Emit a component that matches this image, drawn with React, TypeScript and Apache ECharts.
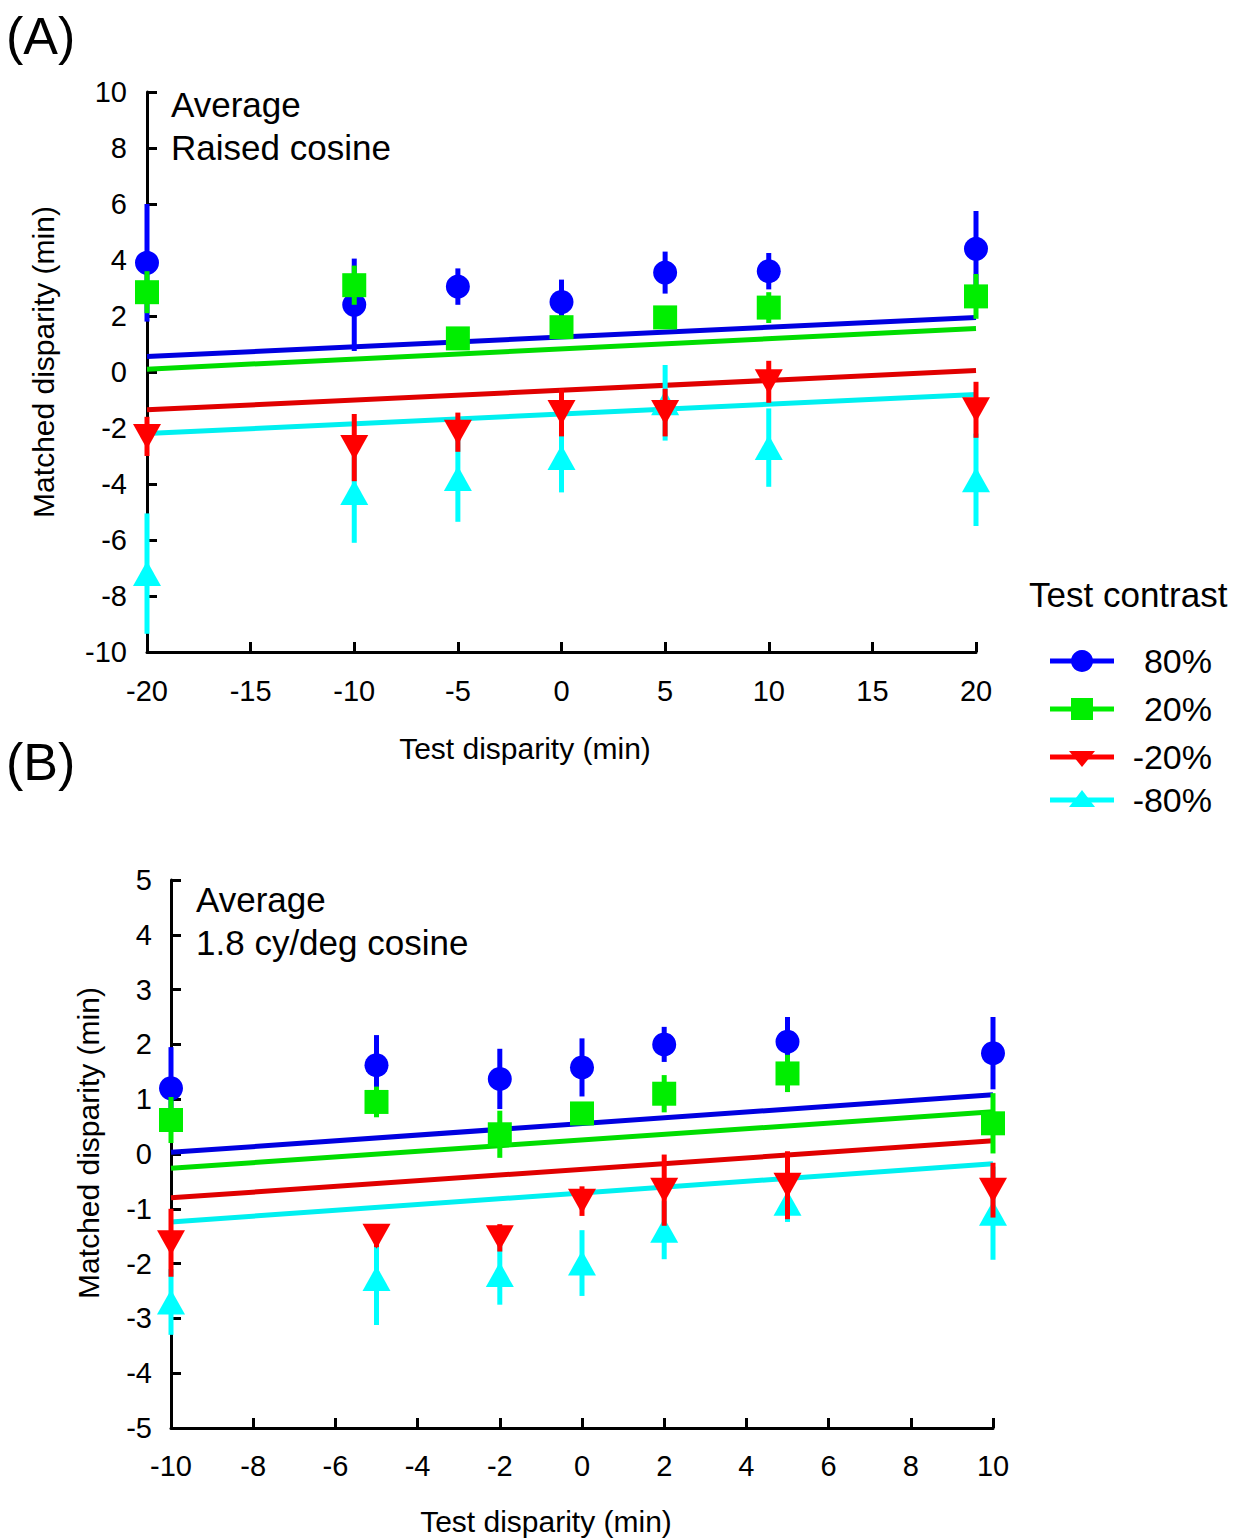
import React, { useEffect, useRef } from "react";
import * as echarts from "echarts";

// ---------- Data ----------
const xA = [-20, -10, -5, 0, 5, 10, 20];
const a80 = [3.9, 2.4, 3.05, 2.5, 3.55, 3.6, 4.4];
const a80Err = [2.1, 1.65, 0.65, 0.8, 0.75, 0.65, 1.35];
const a20 = [2.85, 3.1, 1.2, 1.6, 1.95, 2.3, 2.7];
const a20Err = [0.75, 0.7, 0.3, 0.3, 0.3, 0.55, 0.8];
const aM20 = [-2.3, -2.7, -2.15, -1.45, -1.45, -0.35, -1.35];
const aM20Err = [0.7, 1.2, 0.7, 0.85, 0.85, 0.75, 1.0];
const aM80 = [-7.2, -4.3, -3.8, -3.05, -1.1, -2.7, -3.85];
const aM80Err = [2.15, 1.8, 1.55, 1.25, 1.35, 1.4, 1.65];
const fitAx = [-20, 20];
const fitA80 = [0.55, 1.95];
const fitA20 = [0.1, 1.55];
const fitAM20 = [-1.35, 0.05];
const fitAM80 = [-2.2, -0.8];

const xB = [-10, -5, -2, 0, 2, 5, 10];
const b80 = [1.2, 1.62, 1.37, 1.58, 2.0, 2.05, 1.84];
const b80Err = [0.75, 0.55, 0.55, 0.53, 0.32, 0.45, 0.66];
const b20 = [0.62, 0.95, 0.36, 0.74, 1.1, 1.47, 0.56];
const b20Err = [0.42, 0.28, 0.43, 0.2, 0.34, 0.34, 0.55];
const bM20 = [-1.62, -1.5, -1.53, -0.86, -0.66, -0.57, -0.66];
const bM20Err = [0.62, 0.2, 0.25, 0.27, 0.65, 0.62, 0.5];
const bM80 = [-2.7, -2.27, -2.2, -1.99, -1.39, -0.9, -1.08];
const bM80Err = [0.6, 0.85, 0.55, 0.6, 0.53, 0.34, 0.85];
const fitBx = [-10, 10];
const fitB80 = [0.03, 1.08];
const fitB20 = [-0.26, 0.77];
const fitBM20 = [-0.8, 0.24];
const fitBM80 = [-1.24, -0.18];

const legendLabels = ["80%", "20%", "-20%", "-80%"];

// ---------- Styles ----------
const FONT = "Liberation Sans, Arial, sans-serif";
const markerColors = ["#0000ff", "#00ee00", "#ff0000", "#00ffff"];
const lineColors = ["#0000e0", "#00dd00", "#e00000", "#00f0f0"];
const symbols = ["circle", "rect", "triangle", "triangle"];
const symbolRot = [0, 0, 180, 0];
const symbolSizes: any[] = [24, 24, [28, 25], [28, 25]];
// stacking: blue < green < cyan < red
const stackOrder = [0, 1, 3, 2];

function buildPanel(
  idx: number,
  xs: number[],
  vals: number[][],
  errs: number[][],
  fitX: number[],
  fits: number[][]
) {
  const series: any[] = [];
  for (let s = 0; s < 4; s++) {
    series.push({
      type: "line",
      xAxisIndex: idx,
      yAxisIndex: idx,
      data: fitX.map((x, i) => [x, fits[s][i]]),
      symbol: "none",
      lineStyle: { color: lineColors[s], width: 5 },
      clip: false,
      z: 2,
      silent: true,
    });
  }
  for (let s = 0; s < 4; s++) {
    series.push({
      type: "custom",
      xAxisIndex: idx,
      yAxisIndex: idx,
      clip: false,
      z: 10 + stackOrder[s] * 2,
      data: xs.map((x, i) => [x, vals[s][i] - errs[s][i], vals[s][i] + errs[s][i]]),
      encode: { x: 0, y: [1, 2] },
      renderItem: (params: any, api: any) => {
        const p1 = api.coord([api.value(0), api.value(1)]);
        const p2 = api.coord([api.value(0), api.value(2)]);
        return {
          type: "line",
          shape: { x1: p1[0], y1: p1[1], x2: p2[0], y2: p2[1] },
          style: { stroke: markerColors[s], lineWidth: 5 },
        };
      },
    });
    series.push({
      type: "scatter",
      xAxisIndex: idx,
      yAxisIndex: idx,
      clip: false,
      z: 11 + stackOrder[s] * 2,
      data: xs.map((x, i) => [x, vals[s][i]]),
      symbol: symbols[s],
      symbolRotate: symbolRot[s],
      symbolSize: symbolSizes[s],
      itemStyle: { color: markerColors[s], opacity: 1 },
    });
  }
  return series;
}

const axisCommon = {
  axisLine: { show: true, onZero: false, lineStyle: { color: "#000", width: 3 } },
  axisTick: { show: true, inside: true, length: 10, lineStyle: { color: "#000", width: 3 } },
  splitLine: { show: false },
  axisLabel: { color: "#000", fontSize: 29, fontFamily: FONT },
};

export default function App() {
  const ref = useRef<HTMLDivElement>(null);
  useEffect(() => {
    if (!ref.current) return;
    const chart = echarts.init(ref.current, null, { renderer: "svg" });

    const seriesA = buildPanel(0, xA, [a80, a20, aM20, aM80], [a80Err, a20Err, aM20Err, aM80Err], fitAx, [fitA80, fitA20, fitAM20, fitAM80]);
    const seriesB = buildPanel(1, xB, [b80, b20, bM20, bM80], [b80Err, b20Err, bM20Err, bM80Err], fitBx, [fitB80, fitB20, fitBM20, fitBM80]);

    const legendY = [661, 709, 757, 800];
    const legendGraphics: any[] = [];
    legendLabels.forEach((lab, i) => {
      const y = legendY[i];
      legendGraphics.push({
        type: "line",
        shape: { x1: 1050, y1: y, x2: 1114, y2: y },
        style: { stroke: markerColors[i], lineWidth: 5 },
      });
      if (i === 0) {
        legendGraphics.push({ type: "circle", shape: { cx: 1082, cy: y, r: 11 }, style: { fill: markerColors[i] } });
      } else if (i === 1) {
        legendGraphics.push({ type: "rect", shape: { x: 1071, y: y - 11, width: 22, height: 22 }, style: { fill: markerColors[i] } });
      } else if (i === 2) {
        legendGraphics.push({ type: "polygon", shape: { points: [[1069, y - 6], [1095, y - 6], [1082, y + 10]] }, style: { fill: markerColors[i] } });
      } else {
        legendGraphics.push({ type: "polygon", shape: { points: [[1069, y + 7], [1095, y + 7], [1082, y - 10]] }, style: { fill: markerColors[i] } });
      }
      legendGraphics.push({
        type: "text",
        x: 1212,
        y,
        style: { text: lab, fontSize: 34, fontFamily: FONT, fill: "#000", align: "right", verticalAlign: "middle" },
      });
    });

    const txt = (text: string, x: number, y: number, size: number, align = "left", rotation = 0) => ({
      type: "text",
      x,
      y,
      rotation,
      style: { text, fontSize: size, fontFamily: FONT, fill: "#000", align, verticalAlign: "middle" },
    });

    chart.setOption({
      animation: false,
      backgroundColor: "#fff",
      grid: [
        { left: 147, top: 92, width: 829, height: 560 },
        { left: 171, top: 880, width: 822, height: 548 },
      ],
      xAxis: [
        { ...axisCommon, type: "value", gridIndex: 0, min: -20, max: 20, interval: 5, axisLabel: { ...axisCommon.axisLabel, margin: 24 } },
        { ...axisCommon, type: "value", gridIndex: 1, min: -10, max: 10, interval: 2, axisLabel: { ...axisCommon.axisLabel, margin: 23 } },
      ],
      yAxis: [
        { ...axisCommon, type: "value", gridIndex: 0, min: -10, max: 10, interval: 2, axisLabel: { ...axisCommon.axisLabel, margin: 20 } },
        { ...axisCommon, type: "value", gridIndex: 1, min: -5, max: 5, interval: 1, axisLabel: { ...axisCommon.axisLabel, margin: 19 } },
      ],
      graphic: [
        txt("(A)", 6, 36, 52),
        txt("(B)", 6, 762, 52),
        txt("Average", 171, 104, 35),
        txt("Raised cosine", 171, 147, 35),
        txt("Average", 196, 899, 35),
        txt("1.8 cy/deg cosine", 196, 942, 35),
        txt("Matched disparity (min)", 43, 362, 30, "center", Math.PI / 2),
        txt("Matched disparity (min)", 88, 1143, 30, "center", Math.PI / 2),
        txt("Test disparity (min)", 525, 748, 30, "center"),
        txt("Test disparity (min)", 546, 1521, 30, "center"),
        txt("Test contrast", 1029, 594, 35),
        ...legendGraphics,
      ],
      series: [...seriesA, ...seriesB],
    });
    return () => chart.dispose();
  }, []);
  return (
    <div
      ref={ref}
      style={{ position: "absolute", left: 0, top: 0, width: 1236, height: 1540, background: "#fff" }}
    />
  );
}
